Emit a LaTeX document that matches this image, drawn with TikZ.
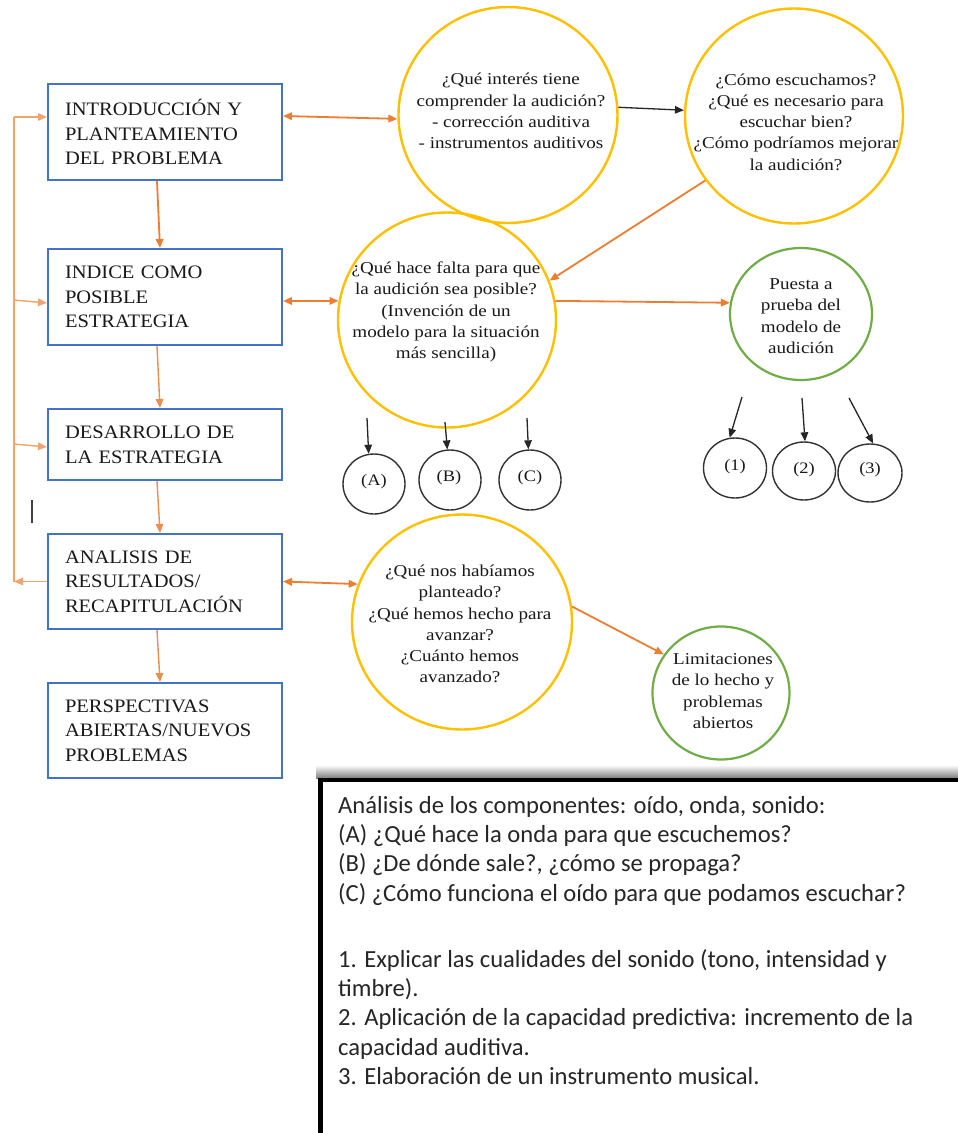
\documentclass[tikz,border=0pt]{standalone}
\usepackage{fontspec}
\setmainfont{Liberation Serif}
\newfontfamily\boxfont[FakeStretch=1.08]{Liberation Serif}
\newfontfamily\circfont[FakeStretch=1.15]{Liberation Serif}
\newfontfamily\notefont{Carlito}
\usetikzlibrary{arrows.meta,shapes.geometric}
\definecolor{boxblue}{HTML}{4472C4}
\definecolor{ylw}{HTML}{FFC000}
\definecolor{grn}{HTML}{70AD47}
\definecolor{orng}{HTML}{ED7D31}
\definecolor{lorng}{HTML}{F4A36B}
\definecolor{morng}{HTML}{F08C4E}
\begin{document}
\begin{tikzpicture}[x=1pt,y=-1pt,
  stepbox/.style={draw=boxblue, line width=2pt, minimum width=234pt, inner sep=0pt,
    text width=200pt, align=left, text=black!90, font=\boxfont\fontsize{19}{24.7}\selectfont},
  ybig/.style={ellipse, draw=ylw, line width=2.4pt, inner sep=0pt},
  gbig/.style={ellipse, draw=grn, line width=2.2pt, inner sep=0pt},
  small/.style={ellipse, draw=black!80, line width=1.4pt, inner sep=0pt, minimum width=62pt, minimum height=60pt},
  ctext/.style={align=center, inner sep=0pt, text=black!90, font=\circfont\fontsize{16.6}{21.3}\selectfont},
  stext/.style={inner sep=0pt, text=black!90, font=\circfont\fontsize{16}{19}\selectfont},
  tip/.style={-{Triangle[length=9pt,width=7.5pt]}},
  dtip/.style={{Triangle[length=9pt,width=7.5pt]}-{Triangle[length=9pt,width=7.5pt]}},
  oarrow/.style={draw=orng, line width=1.8pt},
  loarrow/.style={draw=morng, line width=1.4pt},
  fbline/.style={draw=lorng, line width=1.4pt},
  barrow/.style={draw=black!85, line width=1.3pt},
  note/.style={align=left, inner sep=0pt, anchor=north west, text=black!85,
    font=\notefont\fontsize{24.6}{29.3}\selectfont}
]
\useasboundingbox (0,0) rectangle (958,1133);
\clip (0,0) rectangle (958,1133);
\fill[white] (0,0) rectangle (958,1133);

% left boxes
\node[stepbox, minimum height=96pt] (b1) at (165,132) {INTRODUCCIÓN Y\\PLANTEAMIENTO\\DEL PROBLEMA};
\node[stepbox, minimum height=96pt] (b2) at (165,297) {INDICE COMO\\POSIBLE\\ESTRATEGIA};
\node[stepbox, minimum height=71pt] (b3) at (165,444.5) {DESARROLLO DE\\LA ESTRATEGIA};
\node[stepbox, minimum height=95pt] (b4) at (165,581.5) {ANALISIS DE\\RESULTADOS/\\RECAPITULACIÓN};
\node[stepbox, minimum height=95pt] (b5) at (165,730.5) {PERSPECTIVAS\\ABIERTAS/NUEVOS\\PROBLEMAS};

% big circles
\node[ybig, minimum width=219pt, minimum height=216pt] (c1) at (508,115) {};
\node[ctext] (c1t) at (511,111) {¿Qué interés tiene\\comprender la audición?\\- corrección auditiva\\- instrumentos auditivos};
\node[ybig, minimum width=218pt, minimum height=215pt] (c2) at (794,116) {};
\node[ctext] (c2t) at (796,122) {¿Cómo escuchamos?\\¿Qué es necesario para\\escuchar bien?\\¿Cómo podríamos mejorar\\la audición?};
\node[ybig, minimum width=218pt, minimum height=215pt] (c3) at (447,320) {};
\node[ctext] (c3t) at (446,312) {¿Qué hace falta para que\\la audición sea posible?\\(Invención de un\\modelo para la situación\\más sencilla)};
\node[gbig, minimum width=142pt, minimum height=132pt] (c4) at (801,314) {};
\node[ctext] (c4t) at (801,316) {Puesta a\\prueba del\\modelo de\\audición};
\node[ybig, minimum width=220pt, minimum height=215pt] (c5) at (462,622) {};
\node[ctext] (c5t) at (460,624) {¿Qué nos habíamos\\planteado?\\¿Qué hemos hecho para\\avanzar?\\¿Cuánto hemos\\avanzado?};
\node[gbig, minimum width=137pt, minimum height=133pt] (c6) at (721,693) {};
\node[ctext] (c6t) at (723,691) {Limitaciones\\de lo hecho y\\problemas\\abiertos};

% small circles
\node[small] (ca) at (374,484) {};
\node[stext] (cat) at (374,482) {(A)};
\node[small] (cb) at (450,480) {};
\node[stext] (cbt) at (449,478) {(B)};
\node[small] (cc) at (530,480) {};
\node[stext] (cct) at (530,478) {(C)};
\node[small, minimum width=63pt] (n1) at (735,468) {};
\node[stext] (n1t) at (735,467) {(1)};
\node[small, minimum width=63pt, minimum height=58pt] (n2) at (804,471) {};
\node[stext] (n2t) at (804,470) {(2)};
\node[small, minimum width=64pt, minimum height=58pt] (n3) at (870,473) {};
\node[stext] (n3t) at (870,470) {(3)};

% connectors between boxes
\draw[oarrow, tip] ([xshift=-8pt]b1.south) -- ([xshift=-5pt]b2.north);
\draw[loarrow, tip] ([xshift=-8pt]b2.south) -- ([xshift=-5pt]b3.north);
\draw[loarrow, tip] ([xshift=-8pt]b3.south) -- ([xshift=-5pt]b4.north);
\draw[loarrow, tip] ([xshift=-8pt]b4.south) -- ([xshift=-5pt]b5.north);

% feedback loop
\coordinate (fbt) at (14,117);
\coordinate (fb2) at (14,300);
\coordinate (fb3) at (14,444);
\coordinate (fbb) at (14,581.5);
\draw[fbline] (fbb) -- (fbt);
\draw[fbline, tip] (b4.west) -- (fbb);
\draw[fbline, tip] (fbt) -- ([yshift=15pt]b1.west);
\draw[fbline, tip] (fb2) -- ([yshift=-6pt]b2.west);
\draw[fbline, tip] (fb3) -- ([yshift=-2.5pt]b3.west);
\draw[black!75, line width=1.6pt] (32,500) -- (32,523);

% connectors to circles
\draw[oarrow, dtip] ([yshift=16pt]b1.east) -- (c1.182);
\draw[oarrow, dtip] ([yshift=-4pt]b2.east) -- (c3.170);
\draw[oarrow, dtip] (b4.east) -- (c5.160);
\draw[barrow, tip] (c1.4) -- (c2.177);
\draw[oarrow, tip] (c2.216) -- (c3.21);
\draw[oarrow, tip] (c3.10) -- (c4.171);
\draw[oarrow, tip] (c5.8) -- (c6.146);

% small arrows
\coordinate (pa) at (367,418);
\coordinate (pb) at (445,422);
\coordinate (pc) at (527,418);
\coordinate (p1) at (742,397);
\coordinate (p2) at (802,398);
\coordinate (p3) at (849,398);
\draw[barrow, tip] (pa) -- (ca.100);
\draw[barrow, tip] (pb) -- (cb.95);
\draw[barrow, tip] (pc) -- (cc.93);
\draw[barrow, tip] (p1) -- (n1.100);
\draw[barrow, tip] (p2) -- (n2.88);
\draw[barrow, tip] (p3) -- (n3.84);

% bottom note box
\shade[top color=white, bottom color=black!50] (316,765) rectangle (965,778);
\draw[black, line width=4.5pt] (320.5,1140) -- (320.5,780) -- (965,780);
\node[note] (nt) at (338,796) {Análisis de los componentes: oído, onda, sonido:\\
(A) ¿Qué hace la onda para que escuchemos?\\
(B) ¿De dónde sale?, ¿cómo se propaga?\\
(C) ¿Cómo funciona el oído para que podamos escuchar?\\[36.7pt]
1. Explicar las cualidades del sonido (tono, intensidad y\\
timbre).\\
2. Aplicación de la capacidad predictiva: incremento de la\\
capacidad auditiva.\\
3. Elaboración de un instrumento musical.};
\end{tikzpicture}
\end{document}
